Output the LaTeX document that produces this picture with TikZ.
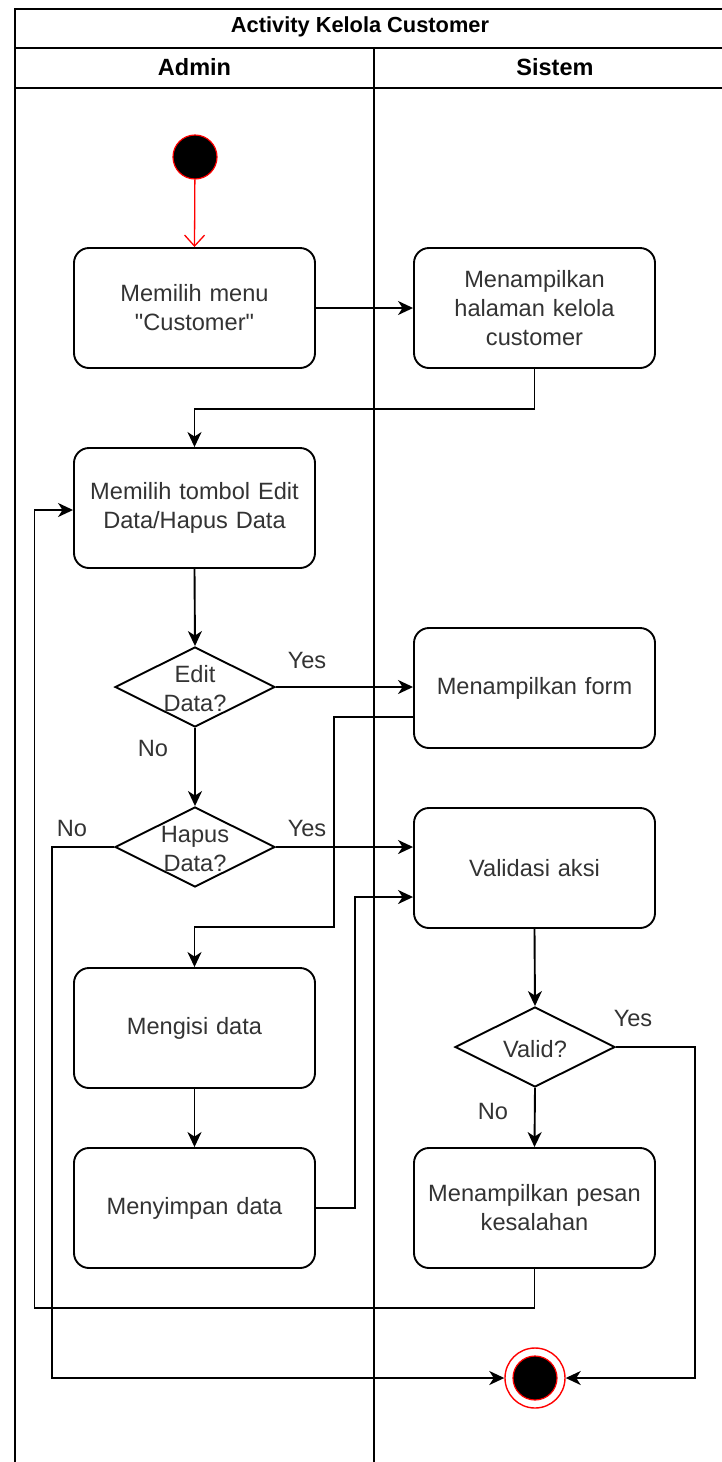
\documentclass[tikz,border=0pt]{standalone}
\usepackage{fontspec}
\setmainfont{Liberation Sans}[Ligatures=TeXOff]
\usetikzlibrary{shapes.geometric,arrows.meta,calc}
\definecolor{txt}{HTML}{333333}
\begin{document}
\begin{tikzpicture}[x=1pt,y=-1pt,
  every node/.style={font=\fontsize{23.6}{29}\selectfont, text=txt},
  action/.style={draw, rounded corners=15pt, line width=1.9pt, minimum width=241pt,
    minimum height=120pt, inner sep=0pt, align=center, text width=230pt},
  decision/.style={draw, diamond, line width=1.9pt, minimum width=160pt,
    minimum height=80pt, inner sep=0pt},
  dtext/.style={align=center, inner sep=0pt},
  lbl/.style={inner sep=0pt},
  flow/.style={line width=1.9pt, -{Stealth[length=15pt,width=14pt,inset=4.5pt]}},
  frame/.style={line width=2pt},
  hdr/.style={font=\fontsize{23.5}{27}\selectfont\bfseries, text=black}]
\useasboundingbox (0,0) rectangle (722,1462);

% swimlane pool
\draw[frame] (14.5,1462) -- (14.5,8.5) -- (722,8.5);
\draw[frame] (14.5,47.5) -- (722,47.5);
\draw[frame] (14.5,87.5) -- (722,87.5);
\draw[frame] (374,47.5) -- (374,1462);
\node[hdr, font=\fontsize{21.8}{25}\selectfont\bfseries] (title) at (360,27) {Activity Kelola Customer};
\node[hdr] (laneA) at (194.5,67) {Admin};
\node[hdr] (laneS) at (555,67) {Sistem};

% initial and final states
\node[circle, fill=black, draw=red, line width=1.2pt, minimum size=44pt, inner sep=0pt] (start) at (195,157) {};
\node[circle, draw=red, line width=1.4pt, minimum size=60pt, inner sep=0pt] (fin) at (535,1378) {};
\node[circle, fill=black, draw=red, line width=1.2pt, minimum size=44pt, inner sep=0pt] (fincore) at (fin) {};

% actions
\node[action] (b1) at (194.5,308) {Memilih menu\\"Customer"};
\node[action] (b2) at (534.5,308) {Menampilkan\\halaman kelola\\customer};
\node[action] (b3) at (194.5,508) {Memilih tombol Edit\\Data/Hapus Data};
\node[action] (b4) at (534.5,688) {Menampilkan form};
\node[action] (b5) at (534.5,868) {Validasi aksi};
\node[action] (b6) at (194.5,1028) {Mengisi data};
\node[action] (b7) at (194.5,1208) {Menyimpan data};
\node[action] (b8) at (534.5,1208) {Menampilkan pesan\\kesalahan};

% decisions
\node[decision] (d1) at (195,687) {};
\node[dtext] (d1t) at (195,689) {Edit\\Data?};
\node[decision] (d2) at (195,847) {};
\node[dtext] (d2t) at (195,849) {Hapus\\Data?};
\node[decision] (d3) at (535,1047) {};
\node[dtext] (d3t) at (535,1049) {Valid?};

% guard labels
\node[lbl] (y1) at (307,660) {Yes};
\node[lbl] (n1) at (153,748) {No};
\node[lbl] (y2) at (307,828) {Yes};
\node[lbl] (n2) at (72,828) {No};
\node[lbl] (y3) at (633,1018) {Yes};
\node[lbl] (n3) at (493,1111) {No};

% control flow
\draw[red, line width=1.3pt, -{Straight Barb[length=11pt,width=20pt]}] (start) -- (b1.north);
\draw[flow] (b1.east) -- (b2.west);
\draw[flow] (b2.south) -- ++(0,40) -| (b3.north);
\draw[flow] (b3.south) -- (d1.north);
\draw[flow] (d1.east) -- (d1.east -| b4.west);
\draw[flow] (d1.south) -- (d2.north);
\draw[flow] (d2.east) -- (d2.east -| b5.west);
\draw[flow] (d2.west) -- ++(-62,0) |- (fin.west);
\draw[flow] ([yshift=-29pt]b4.west) -- ++(-79,0) -- ++(0,210) -| (b6.north);
\draw[flow] (b6.south) -- (b7.north);
\draw[flow] (b7.east) -- ++(39,0) |- ([yshift=-29pt]b5.west);
\draw[flow] (b5.south) -- (d3.north);
\draw[flow] (d3.east) -- ++(79,0) |- (fin.east);
\draw[flow] (d3.south) -- (b8.north);
\draw[flow] (b8.south) -- ++(0,39) -- ++(-500,0) |- ([yshift=-2pt]b3.west);
\end{tikzpicture}
\end{document}
